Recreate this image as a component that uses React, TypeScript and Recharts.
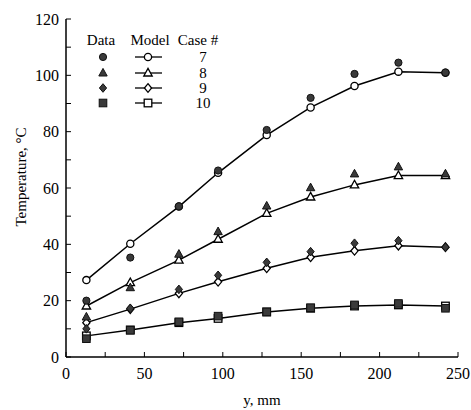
import { Line, LineChart, XAxis, YAxis } from 'recharts';

// distance along the plate, mm
const positions = [13, 41, 72, 97, 128, 156, 184, 212, 242];

// case 7
const data7 = [20, 35.3, 53.5, 66.2, 80.6, 92, 100.5, 104.5, 101];
const model7 = [27.3, 40.2, 53.4, 65.4, 78.8, 88.6, 96.2, 101.3, 100.9];
// case 8
const data8 = [14.2, 24.6, 36.5, 44.5, 53.6, 60.1, 65, 67.5, 65];
const model8 = [18.1, 26.4, 34.4, 41.8, 51, 56.8, 61.1, 64.4, 64.4];
// case 9
const data9 = [10, 17.3, 24, 29, 33.6, 37.4, 40.4, 41.3, 39];
const model9 = [12.2, 17, 22.6, 26.7, 31.5, 35.4, 37.7, 39.5, 39];
// case 10
const data10 = [6.5, 9.5, 12.5, 14.5, 16, 17.5, 18.5, 19, 17.3];
const model10 = [7.5, 9.6, 12.2, 13.7, 16, 17.3, 18.1, 18.5, 18.1];

const xTicks = [0, 25, 50, 75, 100, 125, 150, 175, 200, 225, 250];
const yTicks = [0, 10, 20, 30, 40, 50, 60, 70, 80, 90, 100, 110, 120];
const cases = ['7', '8', '9', '10'];
const shapes = ['circle', 'triangle', 'diamond', 'square'];

const FONT = '"Liberation Serif", "Times New Roman", serif';

function Marker({ cx, cy, shape, filled }: { cx: number; cy: number; shape: string; filled: boolean }) {
  const fill = filled ? '#3a3a3a' : '#fff';
  const stroke = filled ? '#111' : '#000';
  const sw = filled ? 1 : 1.3;
  if (shape === 'circle') return <circle cx={cx} cy={cy} r={3.6} fill={fill} stroke={stroke} strokeWidth={sw} />;
  if (shape === 'triangle')
    return (
      <polygon
        points={`${cx},${cy - 4.6} ${cx + 4.2},${cy + 3} ${cx - 4.2},${cy + 3}`}
        fill={fill}
        stroke={stroke}
        strokeWidth={sw}
      />
    );
  if (shape === 'diamond')
    return (
      <polygon
        points={`${cx},${cy - 4.3} ${cx + 3.6},${cy} ${cx},${cy + 4.3} ${cx - 3.6},${cy}`}
        fill={fill}
        stroke={stroke}
        strokeWidth={sw}
      />
    );
  return <rect x={cx - 3.8} y={cy - 3.8} width={7.6} height={7.6} fill={fill} stroke={stroke} strokeWidth={sw} />;
}

const dotFor = (shape: string, filled: boolean) => (props: any) => {
  if (props.cx == null || props.cy == null) return <g key={props.index} />;
  return <Marker key={`${shape}-${filled}-${props.index}`} cx={props.cx} cy={props.cy} shape={shape} filled={filled} />;
};

const rows = positions.map((y, i) => ({
  y,
  data7: data7[i],
  model7: model7[i],
  data8: data8[i],
  model8: model8[i],
  data9: data9[i],
  model9: model9[i],
  data10: data10[i],
  model10: model10[i]
}));

const tickStyle = { fontFamily: FONT, fontSize: 16, fill: '#000' };

function LegendBox() {
  const rowY = [57, 73, 88, 103];
  return (
    <svg width={471} height={410} style={{ position: 'absolute', left: 0, top: 0, pointerEvents: 'none' }}>
      <g fontFamily={FONT} fontSize={15} fill='#000' textAnchor='middle'>
        <text x={101} y={45}>Data</text>
        <text x={150} y={45}>Model</text>
        <text x={198} y={45}>Case #</text>
        {cases.map((c, i) => (
          <g key={c}>
            <Marker cx={103} cy={rowY[i]} shape={shapes[i]} filled={true} />
            <line x1={135} x2={162} y1={rowY[i]} y2={rowY[i]} stroke='#000' strokeWidth={1.3} />
            <Marker cx={148} cy={rowY[i]} shape={shapes[i]} filled={false} />
            <text x={203} y={rowY[i] + 5}>{c}</text>
          </g>
        ))}
      </g>
    </svg>
  );
}

export default function App() {
  return (
    <div style={{ position: 'absolute', left: 0, top: 0, width: 471, height: 410, background: '#fff' }}>
      <LineChart width={471} height={410} data={rows} margin={{ top: 19, right: 13, left: 0, bottom: 0 }}>
        <XAxis
          dataKey='y'
          type='number'
          domain={[0, 250]}
          ticks={xTicks}
          tickFormatter={(v) => (v % 50 === 0 ? String(v) : '')}
          height={53}
          tickSize={-5}
          tickMargin={16}
          tick={tickStyle}
          axisLine={{ stroke: '#000', strokeWidth: 1.5 }}
          tickLine={{ stroke: '#000', strokeWidth: 1 }}
          label={{ value: 'y, mm', position: 'insideBottom', offset: 5, style: { fontFamily: FONT, fontSize: 15, fill: '#000' } }}
        />
        <XAxis
          xAxisId='top'
          orientation='top'
          dataKey='y'
          type='number'
          domain={[0, 250]}
          ticks={xTicks}
          tickFormatter={() => ''}
          height={0}
          tickSize={-5}
          axisLine={{ stroke: '#000', strokeWidth: 1.5 }}
          tickLine={{ stroke: '#000', strokeWidth: 1 }}
        />
        <YAxis
          type='number'
          domain={[0, 120]}
          ticks={yTicks}
          tickFormatter={(v) => (v % 20 === 0 ? String(v) : '')}
          width={66}
          tickSize={-5}
          tickMargin={12}
          tick={tickStyle}
          axisLine={{ stroke: '#000', strokeWidth: 1.5 }}
          tickLine={{ stroke: '#000', strokeWidth: 1 }}
          label={{
            value: 'Temperature, °C',
            angle: -90,
            position: 'center',
            dx: -12,
            dy: -11,
            style: { fontFamily: FONT, fontSize: 15, fill: '#000' }
          }}
        />
        <YAxis
          yAxisId='right'
          orientation='right'
          type='number'
          domain={[0, 120]}
          ticks={yTicks}
          tickFormatter={() => ''}
          width={0}
          tickSize={-5}
          axisLine={{ stroke: '#000', strokeWidth: 1.5 }}
          tickLine={{ stroke: '#000', strokeWidth: 1 }}
        />

        <Line dataKey='model7' stroke='#000' strokeWidth={1.5} dot={dotFor('circle', false)} isAnimationActive={false} />
        <Line dataKey='model8' stroke='#000' strokeWidth={1.5} dot={dotFor('triangle', false)} isAnimationActive={false} />
        <Line dataKey='model9' stroke='#000' strokeWidth={1.5} dot={dotFor('diamond', false)} isAnimationActive={false} />
        <Line dataKey='model10' stroke='#000' strokeWidth={1.5} dot={dotFor('square', false)} isAnimationActive={false} />

        <Line dataKey='data7' stroke='none' dot={dotFor('circle', true)} isAnimationActive={false} />
        <Line dataKey='data8' stroke='none' dot={dotFor('triangle', true)} isAnimationActive={false} />
        <Line dataKey='data9' stroke='none' dot={dotFor('diamond', true)} isAnimationActive={false} />
        <Line dataKey='data10' stroke='none' dot={dotFor('square', true)} isAnimationActive={false} />
      </LineChart>
      <LegendBox />
    </div>
  );
}
